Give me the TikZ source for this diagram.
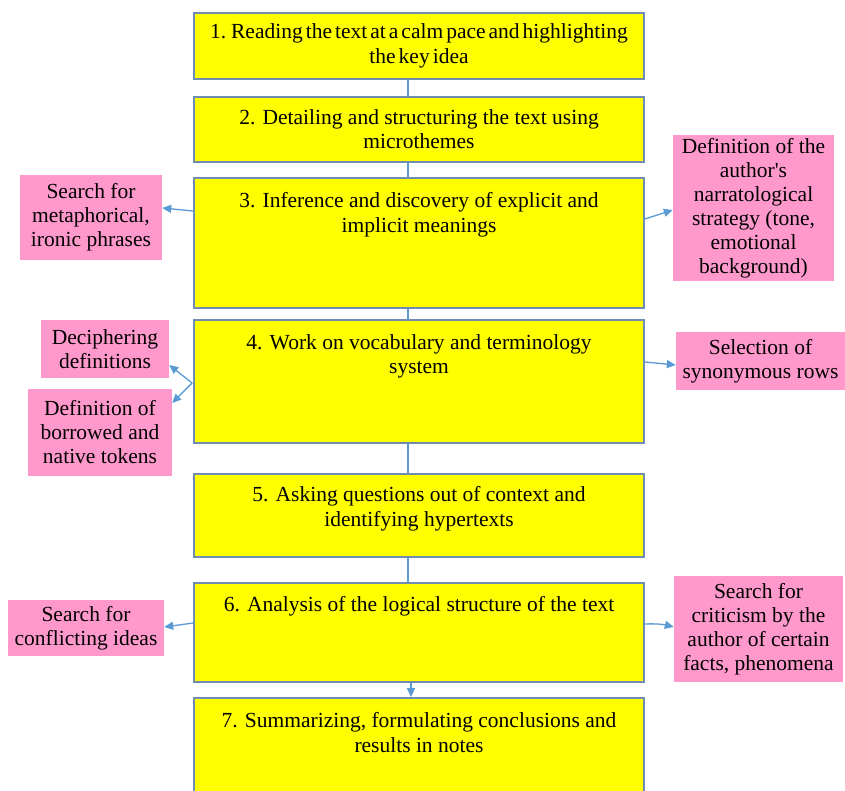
\documentclass[tikz,border=0pt]{standalone}
\usepackage{fontspec}
\setmainfont{Liberation Serif}
\usetikzlibrary{arrows.meta,calc}
\definecolor{ybox}{RGB}{255,255,0}
\definecolor{yedge}{RGB}{110,140,180}
\definecolor{pinkbox}{RGB}{255,153,204}
\definecolor{conncol}{RGB}{91,155,213}
\newcommand\toptext[4]{\parbox[c][#1][t]{#2}{\centering\vspace*{#3}#4\par}}
\begin{document}
\begin{tikzpicture}[x=1pt,y=-1pt,
  stagebox/.style={draw=yedge, line width=1.8pt, fill=ybox, inner sep=0pt,
    minimum width=450pt, font=\fontsize{21.5}{24.5}\selectfont},
  sidebox/.style={fill=pinkbox, inner sep=0pt, align=center,
    font=\fontsize{21.5}{24}\selectfont},
  conn/.style={draw=conncol, line width=1.3pt},
  arr/.style={conn, -{Triangle[length=9pt,width=8pt]}}]
\useasboundingbox (0,0) rectangle (845,791);
\fill[white] (0,0) rectangle (845,791);
% main stages
\node[stagebox, minimum height=66pt] (b1) at (419,46)
  {\toptext{66pt}{446pt}{11pt}{\spaceskip=0.14em plus 0.05em 1. Reading the text at a calm pace and highlighting\\the key idea}};
\node[stagebox, minimum height=65pt] (b2) at (419,129.5)
  {\toptext{65pt}{446pt}{12.5pt}{2. Detailing and structuring the text using\\microthemes}};
\node[stagebox, minimum height=130pt] (b3) at (419,243)
  {\toptext{130pt}{446pt}{14.5pt}{3. Inference and discovery of explicit and\\implicit meanings}};
\node[stagebox, minimum height=123pt] (b4) at (419,381.5)
  {\toptext{123pt}{446pt}{14.5pt}{4. Work on vocabulary and terminology\\system}};
\node[stagebox, minimum height=83pt] (b5) at (419,515.5)
  {\toptext{83pt}{446pt}{12.5pt}{5. Asking questions out of context and\\identifying hypertexts}};
\node[stagebox, minimum height=99pt] (b6) at (419,632.5)
  {\toptext{99pt}{446pt}{13pt}{6. Analysis of the logical structure of the text}};
\node[stagebox, minimum height=132pt] (b7) at (419,764)
  {\toptext{132pt}{446pt}{14.5pt}{7. Summarizing, formulating conclusions and\\results in notes}};
% side boxes
\node[sidebox, minimum width=142pt, minimum height=85pt] (p3l) at (91,217.5)
  {Search for\\metaphorical,\\ironic phrases};
\node[sidebox, minimum width=161pt, minimum height=146pt] (p3r) at (753.5,208)
  {Definition of the\\author\textquotesingle s\\narratological\\strategy (tone,\\emotional\\background)};
\node[sidebox, minimum width=128pt, minimum height=58pt] (p4l1) at (105,349)
  {Deciphering\\definitions};
\node[sidebox, minimum width=144pt, minimum height=87pt] (p4l2) at (100,432.5)
  {Definition of\\borrowed and\\native tokens};
\node[sidebox, minimum width=169pt, minimum height=58pt] (p4r) at (760.5,361)
  {Selection of\\synonymous rows};
\node[sidebox, minimum width=156pt, minimum height=56pt] (p6l) at (86,628)
  {Search for\\conflicting ideas};
\node[sidebox, minimum width=169pt, minimum height=106pt] (p6r) at (758.5,629)
  {Search for\\criticism by the\\author of certain\\facts, phenomena};
% vertical connectors
\coordinate (cx) at (408,0);
\draw[conn] (b1.south -| cx) -- (b2.north -| cx);
\draw[conn] (b2.south -| cx) -- (b3.north -| cx);
\draw[conn] (b3.south -| cx) -- (b4.north -| cx);
\draw[conn] (b4.south -| cx) -- (b5.north -| cx);
\draw[conn] (b5.south -| cx) -- (b6.north -| cx);
\draw[arr] ($(b6.south -| cx)+(3,0)$) -- ($(b7.north -| cx)+(3,0)$);
% side arrows
\draw[arr] ($(b3.west)+(0,-32)$) -- ($(p3l.east)+(0,-9.5)$);
\draw[arr] ($(b3.east)+(0,-24)$) -- ($(p3r.west)+(0,2)$);
\coordinate (b4l) at ($(b4.west)+(-1,1.5)$);
\draw[arr] (b4l) -- ($(p4l1.east)+(0,16)$);
\draw[arr] (b4l) -- ($(p4l2.east)+(0,-29.5)$);
\draw[arr] ($(b4.east)+(0,-19.5)$) -- ($(p4r.west)+(0,4)$);
\draw[arr] ($(b6.west)+(0,-9.5)$) -- ($(p6l.east)+(0,-1)$);
\draw[arr] ($(b6.east)+(0,-8.5)$) to[bend left=8] ($(p6r.west)+(0,-2)$);
\end{tikzpicture}
\end{document}
